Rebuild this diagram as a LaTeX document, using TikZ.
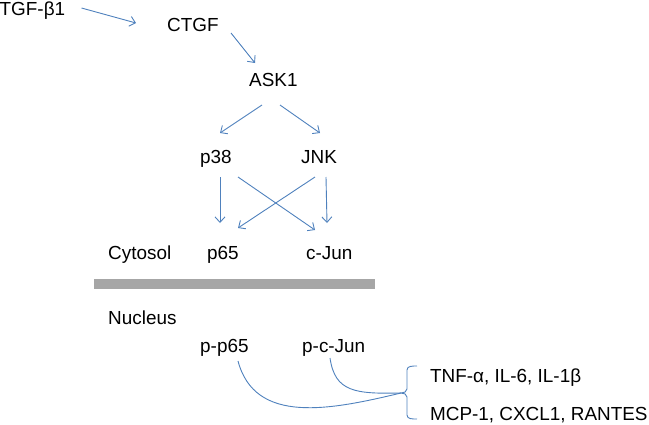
\documentclass[tikz,border=0pt]{standalone}
\usepackage{fontspec}
\setmainfont{Liberation Sans}
\usetikzlibrary{arrows.meta,calc}
\definecolor{arrblue}{RGB}{79,129,189}
\definecolor{bargray}{RGB}{166,166,166}
\begin{document}
\begin{tikzpicture}[x=1pt,y=-1pt,
  lbl/.style={inner sep=0pt,anchor=base west,font=\fontsize{18.9}{22}\selectfont},
  arr/.style={draw=arrblue,line width=0.9pt,-{Straight Barb[length=5.5pt,width=10pt]}},
  link/.style={draw=arrblue,line width=0.9pt}]
\useasboundingbox (0,0) rectangle (649,424);
% labels
\node[lbl] (tgf) at (-0.5,15.7) {TGF-β1};
\node[lbl] (ctgf) at (167,31.7) {CTGF};
\node[lbl] (ask) at (249,86) {ASK1};
\node[lbl] (p38) at (200,163) {p38};
\node[lbl] (jnk) at (301,163) {JNK};
\node[lbl] (cyto) at (108,259) {Cytosol};
\node[lbl] (p65) at (207,259) {p65};
\node[lbl] (cjun) at (306,259) {c-Jun};
\node[lbl] (nuc) at (108,324) {Nucleus};
\node[lbl] (pp65) at (200,352) {p-p65};
\node[lbl] (pcjun) at (302,352) {p-c-Jun};
\node[lbl] (tnf) at (430,382) {TNF-α, IL-6, IL-1β};
\node[lbl] (mcp) at (430,420) {MCP-1, CXCL1, RANTES};
% membrane bar
\fill[bargray] (94,279) rectangle (375,289);
% arrows
\draw[arr] ($(tgf.base west)+(82,-7.7)$) -- ($(ctgf.base west)+(-31,-8.7)$);
\draw[arr] ($(ctgf.base west)+(64,1.3)$) -- ($(ask.base west)+(6,-23)$);
\draw[arr] ($(ask.base west)+(13,19)$) -- ($(p38.base west)+(20,-30)$);
\draw[arr] ($(ask.base west)+(31,19)$) -- ($(jnk.base west)+(19,-30)$);
\draw[arr] ($(p38.base west)+(20,14)$) -- ($(p65.base west)+(13,-36)$);
\draw[arr] ($(p38.base west)+(38,14)$) -- ($(cjun.base west)+(9,-29)$);
\draw[arr] ($(jnk.base west)+(14,14)$) -- ($(p65.base west)+(31,-31)$);
\draw[arr] ($(jnk.base west)+(25,14)$) -- ($(cjun.base west)+(21,-36)$);
% bracket
\coordinate (tip) at (401,393);
\coordinate (btop) at (417,366);
\coordinate (bbot) at (417,419);
\draw[link] (btop) to[out=180,in=90] (407,370) -- (407,389) to[out=-90,in=0] (tip)
  to[out=0,in=90] (407,397) -- (407,415) to[out=-90,in=180] (bbot);
% curves to bracket
\draw[link] ($(pp65.base west)+(38,9)$) .. controls (255,425) and (330,410) .. (tip);
\draw[link] ($(pcjun.base west)+(28,6)$) .. controls (335,392) and (355,394) .. (tip);
\end{tikzpicture}
\end{document}
